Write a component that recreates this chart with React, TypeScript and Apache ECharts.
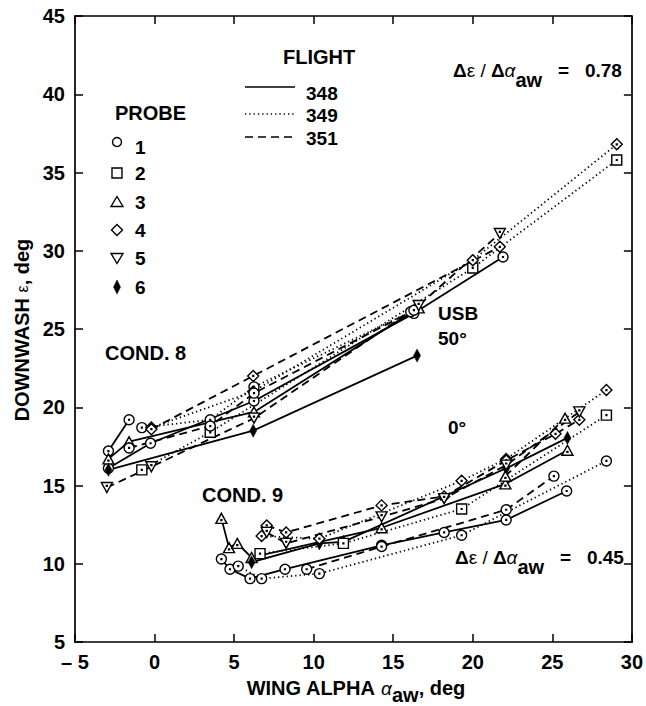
import React, { useEffect, useRef } from 'react';
import * as echarts from 'echarts';

// ---- axes ----
const X_MIN = -5, X_MAX = 30, X_STEP = 5;
const Y_MIN = 5, Y_MAX = 45, Y_STEP = 5;

const PROBES = ['1', '2', '3', '4', '5', '6'];
const FLIGHTS = ['348', '349', '351'];

// ---- COND. 8 (USB 50°) ----
const c8_348_p1a = [[-2.9, 17.2], [-1.6, 19.2]];
const c8_348_p1 = [[-2.9, 16.1], [-0.25, 17.7], [6.25, 20.4], [16.3, 26.0], [21.9, 29.6]];
const c8_348_p3 = [[-2.9, 16.7], [-1.6, 17.8], [6.25, 19.7], [16.6, 26.35]];
const c8_348_p6 = [[-2.9, 16.0], [6.2, 18.5], [16.5, 23.3]];
const c8_349_p1 = [[-0.8, 18.7], [3.5, 19.2], [6.25, 21.3], [16.1, 26.1]];
const c8_349_p2 = [[-0.8, 16.0], [3.5, 18.4], [20.0, 28.9], [29.05, 35.8]];
const c8_349_p4 = [[-0.2, 18.7], [6.2, 21.0], [20.0, 29.4], [29.05, 36.8]];
const c8_351_p1 = [[-1.6, 17.4], [3.5, 18.8], [6.25, 20.9], [16.3, 26.2]];
const c8_351_p4 = [[-0.2, 18.6], [6.2, 22.0], [21.7, 30.25]];
const c8_351_p5 = [[-3.0, 14.87], [-0.2, 16.2], [6.25, 19.3], [16.6, 26.5], [21.7, 31.1]];

// ---- COND. 9 (0°) ----
const c9_348_p1 = [[4.2, 10.3], [4.74, 9.65], [6.0, 9.05], [8.2, 9.65], [14.27, 11.18], [18.2, 12.0], [22.1, 12.8], [25.9, 14.65]];
const c9_349_p1 = [[5.26, 9.85], [6.73, 9.05], [10.36, 9.37], [19.3, 11.82], [28.4, 16.57]];
const c9_351_p1 = [[9.56, 9.65], [14.27, 11.1], [22.1, 13.45], [25.1, 15.6]];
const c9_348_p3 = [[4.2, 12.9], [4.68, 11.03], [5.2, 11.3], [6.1, 10.4], [14.27, 12.3], [22.05, 15.1], [25.95, 17.25]];
const c9_348_p6 = [[6.1, 10.1], [10.36, 11.3], [11.87, 11.4], [22.1, 16.1], [25.95, 18.04]];
const c9_349_p2 = [[6.63, 10.65], [11.87, 11.3], [19.3, 13.5], [28.4, 19.5]];
const c9_349_p4 = [[6.73, 11.77], [10.36, 11.6], [19.3, 15.3], [22.1, 16.7], [28.4, 21.1]];
const c9_351_p3 = [[22.05, 15.6], [25.8, 19.3]];
const c9_351_p4 = [[7.05, 12.45], [8.27, 12.0], [14.27, 13.73], [18.2, 14.3], [22.1, 16.6], [25.2, 18.3], [26.7, 19.2]];
const c9_351_p5 = [[7.05, 12.0], [8.27, 11.3], [14.27, 13.0], [18.2, 14.16], [22.1, 16.3], [26.7, 19.7]];

const SERIES_TABLE = [
  { id: 'c8-348-1a', data: c8_348_p1a, probe: 1, flight: '348' },
  { id: 'c8-348-1', data: c8_348_p1, probe: 1, flight: '348' },
  { id: 'c8-348-3', data: c8_348_p3, probe: 3, flight: '348' },
  { id: 'c8-348-6', data: c8_348_p6, probe: 6, flight: '348' },
  { id: 'c8-349-1', data: c8_349_p1, probe: 1, flight: '349' },
  { id: 'c8-349-2', data: c8_349_p2, probe: 2, flight: '349' },
  { id: 'c8-349-4', data: c8_349_p4, probe: 4, flight: '349' },
  { id: 'c8-351-1', data: c8_351_p1, probe: 1, flight: '351' },
  { id: 'c8-351-4', data: c8_351_p4, probe: 4, flight: '351' },
  { id: 'c8-351-5', data: c8_351_p5, probe: 5, flight: '351' },
  { id: 'c9-348-1', data: c9_348_p1, probe: 1, flight: '348' },
  { id: 'c9-349-1', data: c9_349_p1, probe: 1, flight: '349' },
  { id: 'c9-351-1', data: c9_351_p1, probe: 1, flight: '351' },
  { id: 'c9-348-3', data: c9_348_p3, probe: 3, flight: '348' },
  { id: 'c9-348-6', data: c9_348_p6, probe: 6, flight: '348' },
  { id: 'c9-349-2', data: c9_349_p2, probe: 2, flight: '349' },
  { id: 'c9-349-4', data: c9_349_p4, probe: 4, flight: '349' },
  { id: 'c9-351-3', data: c9_351_p3, probe: 3, flight: '351' },
  { id: 'c9-351-4', data: c9_351_p4, probe: 4, flight: '351' },
  { id: 'c9-351-5', data: c9_351_p5, probe: 5, flight: '351' },
];

const DOT = 'M9.2,9.2L10.8,9.2L10.8,10.8L9.2,10.8Z';
const SYMBOLS: Record<number, { symbol: string; size: number | number[]; filled?: boolean }> = {
  1: { symbol: 'path://M0,10A10,10 0 1,1 20,10A10,10 0 1,1 0,10Z ' + DOT, size: 10 },
  2: { symbol: 'path://M0,0L20,0L20,20L0,20Z ' + DOT, size: 10 },
  3: { symbol: 'path://M10,0L20,18L0,18Z M9.2,11.2L10.8,11.2L10.8,12.8L9.2,12.8Z', size: [11, 10] },
  4: { symbol: 'path://M10,0L20,10L10,20L0,10Z ' + DOT, size: 11 },
  5: { symbol: 'path://M0,0L20,0L10,18Z M9.2,5.2L10.8,5.2L10.8,6.8L9.2,6.8Z', size: [11, 10] },
  6: { symbol: 'path://M5,0L10,10L5,20L0,10Z', size: [7, 13], filled: true },
};

const LINE_TYPES: Record<string, any> = {
  '348': { type: 'solid', width: 1.8 },
  '349': { type: [1.3, 3], width: 1.8 },
  '351': { type: [8, 5], width: 1.8 },
};

const FAM = '"Liberation Sans", Arial, sans-serif';
const B20 = `bold 20px ${FAM}`;
const B19 = `bold 19px ${FAM}`;
const N19 = `19px ${FAM}`;
const I19 = `italic 19px ${FAM}`;

let measureCtx: CanvasRenderingContext2D | null = null;
function measure(text: string, font: string) {
  if (!measureCtx) measureCtx = document.createElement('canvas').getContext('2d');
  measureCtx!.font = font;
  return measureCtx!.measureText(text).width;
}

type Part = { t: string; f: string; dy?: number };
function run(x: number, y: number, parts: Part[], align: 'left' | 'center' = 'left') {
  const widths = parts.map((p) => measure(p.t, p.f));
  const total = widths.reduce((a, b) => a + b, 0);
  let cx = align === 'center' ? x - total / 2 : x;
  return parts.map((p, i) => {
    const el = {
      type: 'text',
      x: cx,
      y: y + (p.dy || 0),
      style: {
        text: p.t,
        font: p.f,
        fill: '#000',
        align: 'left',
        verticalAlign: 'middle',
        textAlign: 'left',
        textVerticalAlign: 'middle',
      },
    };
    cx += widths[i];
    return el;
  });
}

function txt(x: number, y: number, text: string, font = B20) {
  return run(x, y, [{ t: text, f: font }])[0];
}

export default function App() {
  const ref = useRef<HTMLDivElement>(null);
  useEffect(() => {
    document.body.style.margin = '0';
    const chart = echarts.init(ref.current!, undefined, { renderer: 'svg' });

    const axisCommon = {
      type: 'value',
      axisLine: { show: true, onZero: false, lineStyle: { color: '#000', width: 1.7 } },
      axisTick: { show: true, inside: true, length: 8, lineStyle: { color: '#000', width: 1.5 } },
      splitLine: { show: false },
    };
    const labelCommon = { color: '#000', fontSize: 20, fontWeight: 'bold', fontFamily: FAM };

    const series = SERIES_TABLE.map((s) => {
      const sym = SYMBOLS[s.probe];
      return {
        type: 'line',
        name: `Probe ${PROBES[s.probe - 1]} / Flight ${s.flight}`,
        id: s.id,
        data: s.data,
        xAxisIndex: 0,
        yAxisIndex: 0,
        symbol: sym.symbol,
        symbolSize: sym.size,
        showSymbol: true,
        lineStyle: { color: '#000', ...LINE_TYPES[s.flight] },
        itemStyle: {
          color: sym.filled ? '#000' : '#fff',
          borderColor: '#000',
          borderWidth: sym.filled ? 0.5 : 1.4,
        },
        emphasis: { disabled: true },
        silent: true,
      };
    });

    const graphic: any[] = [];
    // Flight legend
    graphic.push(txt(283, 57, 'FLIGHT'));
    const flightY = [{ ly: 87, ty: 93 }, { ly: 114, ty: 115 }, { ly: 137, ty: 138 }];
    FLIGHTS.forEach((f, i) => {
      const lt = LINE_TYPES[f];
      graphic.push({
        type: 'line',
        shape: { x1: 245, y1: flightY[i].ly, x2: 295, y2: flightY[i].ly },
        style: { stroke: '#000', lineWidth: 1.5, lineDash: lt.type === 'solid' ? null : lt.type },
      });
      graphic.push(txt(306, flightY[i].ty, f, B19));
    });

    // Probe legend
    graphic.push(txt(115, 113, 'PROBE'));
    const py = [142, 173, 202, 230, 258, 287];
    const lx = 117;
    const st = { fill: '#fff', stroke: '#000', lineWidth: 1.4 };
    graphic.push({ type: 'circle', shape: { cx: lx, cy: py[0], r: 4.5 }, style: st });
    graphic.push({ type: 'rect', shape: { x: lx - 5, y: py[1] - 5, width: 10, height: 10 }, style: st });
    graphic.push({ type: 'polygon', shape: { points: [[lx, py[2] - 5.5], [lx + 6, py[2] + 4.5], [lx - 6, py[2] + 4.5]] }, style: st });
    graphic.push({ type: 'polygon', shape: { points: [[lx, py[3] - 5.5], [lx + 5.5, py[3]], [lx, py[3] + 5.5], [lx - 5.5, py[3]]] }, style: st });
    graphic.push({ type: 'polygon', shape: { points: [[lx - 6, py[4] - 4.5], [lx + 6, py[4] - 4.5], [lx, py[4] + 5.5]] }, style: st });
    graphic.push({ type: 'polygon', shape: { points: [[lx, py[5] - 7], [lx + 3.5, py[5]], [lx, py[5] + 7], [lx - 3.5, py[5]]] }, style: { fill: '#000', stroke: '#000', lineWidth: 0.5 } });
    PROBES.forEach((p, i) => graphic.push(txt(135, py[i] + (i === 0 ? 5 : 0), p, B19)));

    // Annotations
    graphic.push(txt(105, 353, 'COND. 8'));
    graphic.push(txt(202, 495, 'COND. 9'));
    graphic.push(txt(438, 313, 'USB', B19));
    graphic.push(txt(438, 338, '50°', B19));
    graphic.push(txt(448, 427, '0°', B19));

    const slope = (v: string): Part[] => [
      { t: 'Δ', f: B19 },
      { t: 'ε', f: N19 },
      { t: ' / ', f: N19 },
      { t: 'Δ', f: B19 },
      { t: 'α', f: I19 },
      { t: 'aw', f: B20, dy: 10 },
      { t: '   =   ' + v, f: B19 },
    ];
    graphic.push(...run(453, 70, slope('0.78')));
    graphic.push(...run(455, 557, slope('0.45')));

    // Axis names
    graphic.push(
      ...run(356, 688, [
        { t: 'WING ALPHA ', f: B20 },
        { t: 'α', f: I19 },
        { t: 'aw', f: B20, dy: 7 },
        { t: ', deg', f: B20 },
      ], 'center')
    );
    graphic.push({
      type: 'group',
      x: 22,
      y: 330,
      rotation: Math.PI / 2,
      children: run(0, 0, [
        { t: 'DOWNWASH ', f: B20 },
        { t: 'ε', f: `16px ${FAM}` },
        { t: ', deg', f: B20 },
      ], 'center'),
    });

    chart.setOption({
      animation: false,
      backgroundColor: '#fff',
      grid: { left: 75, right: 14, top: 16, bottom: 64, containLabel: false },
      xAxis: [
        {
          ...axisCommon,
          position: 'bottom',
          min: X_MIN,
          max: X_MAX,
          interval: X_STEP,
          axisLabel: {
            ...labelCommon,
            margin: 10,
            formatter: (v: number) => (v < 0 ? '– ' + Math.abs(v) : String(v)),
          },
        },
        {
          ...axisCommon,
          position: 'top',
          min: X_MIN,
          max: X_MAX,
          interval: X_STEP,
          axisLabel: { show: false },
        },
      ],
      yAxis: [
        {
          ...axisCommon,
          position: 'left',
          min: Y_MIN,
          max: Y_MAX,
          interval: Y_STEP,
          axisLabel: { ...labelCommon, margin: 10 },
        },
        {
          ...axisCommon,
          position: 'right',
          min: Y_MIN,
          max: Y_MAX,
          interval: Y_STEP,
          axisLabel: { show: false },
        },
      ],
      series,
      graphic,
    });
    return () => chart.dispose();
  }, []);
  return <div ref={ref} style={{ width: 646, height: 706 }} />;
}
